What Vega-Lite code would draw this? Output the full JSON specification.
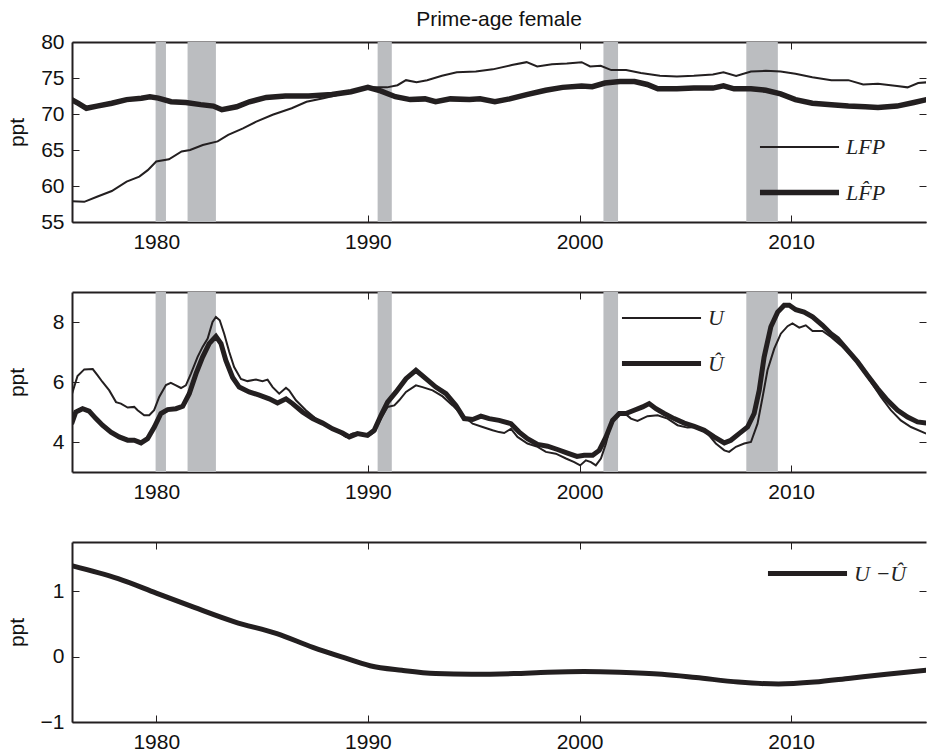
{
  "$schema": "https://vega.github.io/schema/vega-lite/v6.json",
  "background": "white",
  "padding": {"left": 6, "top": 9, "right": 0, "bottom": 0},
  "config": {
    "view": {"stroke": null},
    "font": "Liberation Sans",
    "axis": {
      "grid": false,
      "domainColor": "#231f20",
      "domainWidth": 2,
      "tickColor": "#231f20",
      "tickWidth": 1,
      "tickSize": -7,
      "labelFont": "Liberation Sans",
      "labelFontSize": 21,
      "labelColor": "#111111",
      "labelPadding": 8,
      "titleFont": "Liberation Sans",
      "titleFontSize": 21,
      "titleFontWeight": "normal",
      "titleColor": "#111111"
    },
    "legend": {
      "orient": "none",
      "title": null,
      "symbolType": "M-1.25,0H1.25",
      "symbolSize": 4000,
      "symbolStrokeColor": "#231f20",
      "labelFont": "Liberation Serif",
      "labelFontStyle": "italic",
      "labelFontSize": 22,
      "labelColor": "#222222",
      "labelOffset": 12,
      "padding": 0,
      "rowPadding": 0
    }
  },
  "datasets": {
    "rec": [
      {"start": 1979.97, "end": 1980.46},
      {"start": 1981.48, "end": 1982.82},
      {"start": 1990.46, "end": 1991.13},
      {"start": 2001.13, "end": 2001.82},
      {"start": 2007.88, "end": 2009.37}
    ],
    "lfp": [
      {"t":1976.0,"v":57.9,"s":"LFP"},{"t":1976.6,"v":57.8,"s":"LFP"},{"t":1977.2,"v":58.5,"s":"LFP"},{"t":1977.9,"v":59.3,"s":"LFP"},
      {"t":1978.6,"v":60.6,"s":"LFP"},{"t":1979.2,"v":61.3,"s":"LFP"},{"t":1979.6,"v":62.2,"s":"LFP"},{"t":1980.0,"v":63.4,"s":"LFP"},
      {"t":1980.6,"v":63.7,"s":"LFP"},{"t":1981.2,"v":64.8,"s":"LFP"},{"t":1981.6,"v":65.0,"s":"LFP"},{"t":1982.2,"v":65.7,"s":"LFP"},
      {"t":1982.9,"v":66.2,"s":"LFP"},{"t":1983.4,"v":67.1,"s":"LFP"},{"t":1984.1,"v":68.0,"s":"LFP"},{"t":1984.7,"v":68.9,"s":"LFP"},
      {"t":1985.5,"v":69.9,"s":"LFP"},{"t":1986.4,"v":70.8,"s":"LFP"},{"t":1987.1,"v":71.7,"s":"LFP"},{"t":1987.9,"v":72.2,"s":"LFP"},
      {"t":1988.8,"v":72.8,"s":"LFP"},{"t":1989.5,"v":73.4,"s":"LFP"},{"t":1990.0,"v":73.7,"s":"LFP"},{"t":1990.9,"v":73.7,"s":"LFP"},
      {"t":1991.4,"v":74.0,"s":"LFP"},{"t":1991.8,"v":74.7,"s":"LFP"},{"t":1992.3,"v":74.4,"s":"LFP"},{"t":1992.8,"v":74.7,"s":"LFP"},
      {"t":1993.5,"v":75.3,"s":"LFP"},{"t":1994.2,"v":75.8,"s":"LFP"},{"t":1995.1,"v":75.9,"s":"LFP"},{"t":1995.9,"v":76.2,"s":"LFP"},
      {"t":1996.8,"v":76.8,"s":"LFP"},{"t":1997.5,"v":77.2,"s":"LFP"},{"t":1998.0,"v":76.6,"s":"LFP"},{"t":1998.7,"v":76.9,"s":"LFP"},
      {"t":1999.4,"v":77.0,"s":"LFP"},{"t":2000.1,"v":77.2,"s":"LFP"},{"t":2000.5,"v":76.6,"s":"LFP"},{"t":2001.0,"v":76.7,"s":"LFP"},
      {"t":2001.5,"v":76.1,"s":"LFP"},{"t":2002.2,"v":76.1,"s":"LFP"},{"t":2002.9,"v":75.7,"s":"LFP"},{"t":2003.8,"v":75.3,"s":"LFP"},
      {"t":2004.6,"v":75.2,"s":"LFP"},{"t":2005.4,"v":75.3,"s":"LFP"},{"t":2006.3,"v":75.5,"s":"LFP"},{"t":2006.8,"v":75.8,"s":"LFP"},
      {"t":2007.4,"v":75.3,"s":"LFP"},{"t":2008.1,"v":75.9,"s":"LFP"},{"t":2008.8,"v":76.0,"s":"LFP"},{"t":2009.5,"v":75.9,"s":"LFP"},
      {"t":2010.2,"v":75.6,"s":"LFP"},{"t":2011.0,"v":75.1,"s":"LFP"},{"t":2011.9,"v":74.7,"s":"LFP"},{"t":2012.7,"v":74.7,"s":"LFP"},
      {"t":2013.4,"v":74.1,"s":"LFP"},{"t":2014.1,"v":74.2,"s":"LFP"},{"t":2015.0,"v":73.9,"s":"LFP"},{"t":2015.5,"v":73.7,"s":"LFP"},
      {"t":2016.0,"v":74.3,"s":"LFP"},{"t":2016.4,"v":74.4,"s":"LFP"},
      {"t":1976.0,"v":72.0,"s":"LF̂P"},{"t":1976.3,"v":71.5,"s":"LF̂P"},{"t":1976.7,"v":70.8,"s":"LF̂P"},{"t":1977.2,"v":71.1,"s":"LF̂P"},
      {"t":1977.9,"v":71.5,"s":"LF̂P"},{"t":1978.6,"v":72.0,"s":"LF̂P"},{"t":1979.3,"v":72.2,"s":"LF̂P"},{"t":1979.7,"v":72.4,"s":"LF̂P"},
      {"t":1980.1,"v":72.2,"s":"LF̂P"},{"t":1980.7,"v":71.7,"s":"LF̂P"},{"t":1981.4,"v":71.6,"s":"LF̂P"},{"t":1982.1,"v":71.3,"s":"LF̂P"},
      {"t":1982.7,"v":71.1,"s":"LF̂P"},{"t":1983.1,"v":70.6,"s":"LF̂P"},{"t":1983.8,"v":71.0,"s":"LF̂P"},{"t":1984.4,"v":71.7,"s":"LF̂P"},
      {"t":1985.2,"v":72.3,"s":"LF̂P"},{"t":1986.1,"v":72.5,"s":"LF̂P"},{"t":1987.2,"v":72.5,"s":"LF̂P"},{"t":1988.3,"v":72.7,"s":"LF̂P"},
      {"t":1989.2,"v":73.1,"s":"LF̂P"},{"t":1990.0,"v":73.7,"s":"LF̂P"},{"t":1990.6,"v":73.2,"s":"LF̂P"},{"t":1991.3,"v":72.4,"s":"LF̂P"},
      {"t":1992.0,"v":72.0,"s":"LF̂P"},{"t":1992.7,"v":72.1,"s":"LF̂P"},{"t":1993.2,"v":71.7,"s":"LF̂P"},{"t":1993.9,"v":72.1,"s":"LF̂P"},
      {"t":1994.8,"v":72.0,"s":"LF̂P"},{"t":1995.3,"v":72.1,"s":"LF̂P"},{"t":1996.0,"v":71.7,"s":"LF̂P"},{"t":1996.7,"v":72.1,"s":"LF̂P"},
      {"t":1997.5,"v":72.7,"s":"LF̂P"},{"t":1998.4,"v":73.3,"s":"LF̂P"},{"t":1999.2,"v":73.7,"s":"LF̂P"},{"t":2000.1,"v":73.9,"s":"LF̂P"},
      {"t":2000.6,"v":73.8,"s":"LF̂P"},{"t":2001.2,"v":74.3,"s":"LF̂P"},{"t":2001.9,"v":74.5,"s":"LF̂P"},{"t":2002.6,"v":74.5,"s":"LF̂P"},
      {"t":2003.2,"v":74.1,"s":"LF̂P"},{"t":2003.7,"v":73.5,"s":"LF̂P"},{"t":2004.6,"v":73.5,"s":"LF̂P"},{"t":2005.4,"v":73.6,"s":"LF̂P"},
      {"t":2006.3,"v":73.6,"s":"LF̂P"},{"t":2006.8,"v":73.9,"s":"LF̂P"},{"t":2007.3,"v":73.5,"s":"LF̂P"},{"t":2008.1,"v":73.5,"s":"LF̂P"},
      {"t":2008.8,"v":73.3,"s":"LF̂P"},{"t":2009.5,"v":72.8,"s":"LF̂P"},{"t":2010.2,"v":72.0,"s":"LF̂P"},{"t":2011.0,"v":71.5,"s":"LF̂P"},
      {"t":2011.9,"v":71.3,"s":"LF̂P"},{"t":2012.7,"v":71.1,"s":"LF̂P"},{"t":2013.5,"v":71.0,"s":"LF̂P"},{"t":2014.1,"v":70.9,"s":"LF̂P"},
      {"t":2015.0,"v":71.1,"s":"LF̂P"},{"t":2015.8,"v":71.6,"s":"LF̂P"},{"t":2016.4,"v":72.0,"s":"LF̂P"}
    ],
    "u": [
      {"t":1976.02,"v":5.6,"s":"U"},{"t":1976.28,"v":6.2,"s":"U"},{"t":1976.6,"v":6.42,"s":"U"},{"t":1977.0,"v":6.43,"s":"U"},
      {"t":1977.23,"v":6.22,"s":"U"},{"t":1977.46,"v":6.0,"s":"U"},{"t":1977.78,"v":5.72,"s":"U"},{"t":1978.1,"v":5.33,"s":"U"},
      {"t":1978.33,"v":5.28,"s":"U"},{"t":1978.65,"v":5.15,"s":"U"},{"t":1978.96,"v":5.17,"s":"U"},{"t":1979.12,"v":5.06,"s":"U"},
      {"t":1979.43,"v":4.89,"s":"U"},{"t":1979.67,"v":4.89,"s":"U"},{"t":1979.9,"v":5.06,"s":"U"},{"t":1980.14,"v":5.5,"s":"U"},
      {"t":1980.46,"v":5.9,"s":"U"},{"t":1980.69,"v":5.97,"s":"U"},{"t":1980.93,"v":5.89,"s":"U"},{"t":1981.17,"v":5.8,"s":"U"},
      {"t":1981.4,"v":5.89,"s":"U"},{"t":1981.64,"v":6.28,"s":"U"},{"t":1981.95,"v":6.83,"s":"U"},{"t":1982.19,"v":7.17,"s":"U"},
      {"t":1982.43,"v":7.45,"s":"U"},{"t":1982.66,"v":8.0,"s":"U"},{"t":1982.82,"v":8.17,"s":"U"},{"t":1983.0,"v":8.06,"s":"U"},
      {"t":1983.21,"v":7.61,"s":"U"},{"t":1983.45,"v":7.0,"s":"U"},{"t":1983.68,"v":6.5,"s":"U"},{"t":1984.0,"v":6.1,"s":"U"},
      {"t":1984.31,"v":6.03,"s":"U"},{"t":1984.71,"v":6.08,"s":"U"},{"t":1985.02,"v":6.03,"s":"U"},{"t":1985.26,"v":6.08,"s":"U"},
      {"t":1985.5,"v":5.83,"s":"U"},{"t":1985.81,"v":5.61,"s":"U"},{"t":1986.13,"v":5.81,"s":"U"},{"t":1986.28,"v":5.72,"s":"U"},
      {"t":1986.6,"v":5.39,"s":"U"},{"t":1987.07,"v":5.06,"s":"U"},{"t":1987.54,"v":4.78,"s":"U"},{"t":1988.02,"v":4.56,"s":"U"},
      {"t":1988.49,"v":4.39,"s":"U"},{"t":1988.96,"v":4.17,"s":"U"},{"t":1989.28,"v":4.28,"s":"U"},{"t":1989.6,"v":4.3,"s":"U"},
      {"t":1990.07,"v":4.22,"s":"U"},{"t":1990.3,"v":4.33,"s":"U"},{"t":1990.62,"v":4.78,"s":"U"},{"t":1990.93,"v":5.17,"s":"U"},
      {"t":1991.25,"v":5.22,"s":"U"},{"t":1991.48,"v":5.39,"s":"U"},{"t":1991.8,"v":5.67,"s":"U"},{"t":1992.27,"v":5.89,"s":"U"},
      {"t":1992.58,"v":5.83,"s":"U"},{"t":1993.06,"v":5.72,"s":"U"},{"t":1993.53,"v":5.52,"s":"U"},{"t":1994.0,"v":5.22,"s":"U"},
      {"t":1994.47,"v":4.89,"s":"U"},{"t":1994.95,"v":4.61,"s":"U"},{"t":1995.42,"v":4.5,"s":"U"},{"t":1995.89,"v":4.39,"s":"U"},
      {"t":1996.2,"v":4.33,"s":"U"},{"t":1996.44,"v":4.3,"s":"U"},{"t":1996.76,"v":4.44,"s":"U"},{"t":1997.07,"v":4.17,"s":"U"},
      {"t":1997.54,"v":3.95,"s":"U"},{"t":1998.02,"v":3.84,"s":"U"},{"t":1998.41,"v":3.67,"s":"U"},{"t":1998.88,"v":3.61,"s":"U"},
      {"t":1999.36,"v":3.45,"s":"U"},{"t":1999.75,"v":3.33,"s":"U"},{"t":2000.03,"v":3.22,"s":"U"},{"t":2000.3,"v":3.39,"s":"U"},
      {"t":2000.54,"v":3.33,"s":"U"},{"t":2000.77,"v":3.22,"s":"U"},{"t":2001.01,"v":3.45,"s":"U"},{"t":2001.25,"v":3.95,"s":"U"},
      {"t":2001.48,"v":4.61,"s":"U"},{"t":2001.8,"v":4.95,"s":"U"},{"t":2002.11,"v":4.97,"s":"U"},{"t":2002.43,"v":4.78,"s":"U"},
      {"t":2002.74,"v":4.7,"s":"U"},{"t":2003.21,"v":4.86,"s":"U"},{"t":2003.69,"v":4.89,"s":"U"},{"t":2004.16,"v":4.78,"s":"U"},
      {"t":2004.63,"v":4.56,"s":"U"},{"t":2005.1,"v":4.48,"s":"U"},{"t":2005.58,"v":4.5,"s":"U"},{"t":2006.05,"v":4.28,"s":"U"},
      {"t":2006.44,"v":3.95,"s":"U"},{"t":2006.84,"v":3.72,"s":"U"},{"t":2007.07,"v":3.67,"s":"U"},{"t":2007.39,"v":3.84,"s":"U"},
      {"t":2007.78,"v":3.95,"s":"U"},{"t":2008.1,"v":4.0,"s":"U"},{"t":2008.41,"v":4.61,"s":"U"},{"t":2008.65,"v":5.5,"s":"U"},
      {"t":2008.88,"v":6.39,"s":"U"},{"t":2009.2,"v":7.11,"s":"U"},{"t":2009.51,"v":7.61,"s":"U"},{"t":2009.83,"v":7.86,"s":"U"},
      {"t":2010.06,"v":7.95,"s":"U"},{"t":2010.38,"v":7.81,"s":"U"},{"t":2010.69,"v":7.89,"s":"U"},{"t":2011.01,"v":7.7,"s":"U"},
      {"t":2011.48,"v":7.7,"s":"U"},{"t":2011.88,"v":7.5,"s":"U"},{"t":2012.35,"v":7.22,"s":"U"},{"t":2012.82,"v":6.89,"s":"U"},
      {"t":2013.3,"v":6.5,"s":"U"},{"t":2013.77,"v":6.0,"s":"U"},{"t":2014.24,"v":5.5,"s":"U"},{"t":2014.71,"v":5.06,"s":"U"},
      {"t":2015.18,"v":4.72,"s":"U"},{"t":2015.66,"v":4.5,"s":"U"},{"t":2016.38,"v":4.28,"s":"U"},
      {"t":1976.0,"v":4.6,"s":"Û"},{"t":1976.2,"v":5.0,"s":"Û"},{"t":1976.52,"v":5.11,"s":"Û"},{"t":1976.83,"v":5.03,"s":"Û"},
      {"t":1977.15,"v":4.78,"s":"Û"},{"t":1977.46,"v":4.56,"s":"Û"},{"t":1977.86,"v":4.33,"s":"Û"},{"t":1978.25,"v":4.17,"s":"Û"},
      {"t":1978.65,"v":4.06,"s":"Û"},{"t":1978.96,"v":4.06,"s":"Û"},{"t":1979.28,"v":3.97,"s":"Û"},{"t":1979.59,"v":4.11,"s":"Û"},
      {"t":1979.91,"v":4.5,"s":"Û"},{"t":1980.22,"v":4.95,"s":"Û"},{"t":1980.54,"v":5.08,"s":"Û"},{"t":1980.93,"v":5.11,"s":"Û"},
      {"t":1981.25,"v":5.19,"s":"Û"},{"t":1981.56,"v":5.61,"s":"Û"},{"t":1981.88,"v":6.28,"s":"Û"},{"t":1982.19,"v":6.83,"s":"Û"},
      {"t":1982.5,"v":7.28,"s":"Û"},{"t":1982.82,"v":7.52,"s":"Û"},{"t":1983.06,"v":7.28,"s":"Û"},{"t":1983.29,"v":6.72,"s":"Û"},
      {"t":1983.61,"v":6.15,"s":"Û"},{"t":1983.92,"v":5.83,"s":"Û"},{"t":1984.39,"v":5.67,"s":"Û"},{"t":1984.87,"v":5.56,"s":"Û"},
      {"t":1985.34,"v":5.44,"s":"Û"},{"t":1985.73,"v":5.3,"s":"Û"},{"t":1986.13,"v":5.44,"s":"Û"},{"t":1986.44,"v":5.28,"s":"Û"},
      {"t":1986.91,"v":5.0,"s":"Û"},{"t":1987.39,"v":4.78,"s":"Û"},{"t":1987.86,"v":4.63,"s":"Û"},{"t":1988.33,"v":4.44,"s":"Û"},
      {"t":1988.8,"v":4.3,"s":"Û"},{"t":1989.12,"v":4.17,"s":"Û"},{"t":1989.51,"v":4.28,"s":"Û"},{"t":1989.98,"v":4.22,"s":"Û"},
      {"t":1990.3,"v":4.39,"s":"Û"},{"t":1990.62,"v":4.89,"s":"Û"},{"t":1990.93,"v":5.33,"s":"Û"},{"t":1991.33,"v":5.67,"s":"Û"},
      {"t":1991.8,"v":6.11,"s":"Û"},{"t":1992.27,"v":6.39,"s":"Û"},{"t":1992.74,"v":6.11,"s":"Û"},{"t":1993.21,"v":5.83,"s":"Û"},
      {"t":1993.69,"v":5.61,"s":"Û"},{"t":1994.16,"v":5.22,"s":"Û"},{"t":1994.55,"v":4.78,"s":"Û"},{"t":1994.95,"v":4.75,"s":"Û"},
      {"t":1995.34,"v":4.86,"s":"Û"},{"t":1995.73,"v":4.78,"s":"Û"},{"t":1996.2,"v":4.72,"s":"Û"},{"t":1996.76,"v":4.61,"s":"Û"},
      {"t":1997.15,"v":4.33,"s":"Û"},{"t":1997.54,"v":4.11,"s":"Û"},{"t":1998.02,"v":3.92,"s":"Û"},{"t":1998.49,"v":3.86,"s":"Û"},
      {"t":1998.96,"v":3.75,"s":"Û"},{"t":1999.43,"v":3.63,"s":"Û"},{"t":1999.88,"v":3.52,"s":"Û"},{"t":2000.22,"v":3.56,"s":"Û"},
      {"t":2000.62,"v":3.56,"s":"Û"},{"t":2000.93,"v":3.72,"s":"Û"},{"t":2001.25,"v":4.17,"s":"Û"},{"t":2001.56,"v":4.72,"s":"Û"},
      {"t":2001.88,"v":4.95,"s":"Û"},{"t":2002.19,"v":4.95,"s":"Û"},{"t":2002.58,"v":5.06,"s":"Û"},{"t":2002.98,"v":5.17,"s":"Û"},
      {"t":2003.29,"v":5.28,"s":"Û"},{"t":2003.61,"v":5.11,"s":"Û"},{"t":2004.0,"v":4.95,"s":"Û"},{"t":2004.47,"v":4.78,"s":"Û"},
      {"t":2004.95,"v":4.63,"s":"Û"},{"t":2005.42,"v":4.52,"s":"Û"},{"t":2005.89,"v":4.39,"s":"Û"},{"t":2006.36,"v":4.17,"s":"Û"},
      {"t":2006.84,"v":3.97,"s":"Û"},{"t":2007.15,"v":4.06,"s":"Û"},{"t":2007.54,"v":4.28,"s":"Û"},{"t":2007.94,"v":4.5,"s":"Û"},
      {"t":2008.25,"v":4.95,"s":"Û"},{"t":2008.49,"v":5.72,"s":"Û"},{"t":2008.72,"v":6.83,"s":"Û"},{"t":2009.04,"v":7.84,"s":"Û"},
      {"t":2009.36,"v":8.33,"s":"Û"},{"t":2009.67,"v":8.56,"s":"Û"},{"t":2009.91,"v":8.56,"s":"Û"},{"t":2010.22,"v":8.41,"s":"Û"},
      {"t":2010.61,"v":8.33,"s":"Û"},{"t":2011.01,"v":8.17,"s":"Û"},{"t":2011.48,"v":7.89,"s":"Û"},{"t":2011.88,"v":7.61,"s":"Û"},
      {"t":2012.19,"v":7.45,"s":"Û"},{"t":2012.66,"v":7.06,"s":"Û"},{"t":2013.14,"v":6.67,"s":"Û"},{"t":2013.61,"v":6.22,"s":"Û"},
      {"t":2014.08,"v":5.78,"s":"Û"},{"t":2014.55,"v":5.39,"s":"Û"},{"t":2015.03,"v":5.06,"s":"Û"},{"t":2015.5,"v":4.83,"s":"Û"},
      {"t":2015.97,"v":4.67,"s":"Û"},{"t":2016.38,"v":4.63,"s":"Û"}
    ],
    "gap": [
      {"t":1976.0,"v":1.39,"s":"U −Û"},{"t":1978.2,"v":1.19,"s":"U −Û"},{"t":1980.0,"v":0.97,"s":"U −Û"},{"t":1981.8,"v":0.75,"s":"U −Û"},
      {"t":1983.7,"v":0.53,"s":"U −Û"},{"t":1985.7,"v":0.35,"s":"U −Û"},{"t":1987.4,"v":0.14,"s":"U −Û"},{"t":1988.8,"v":-0.01,"s":"U −Û"},
      {"t":1990.1,"v":-0.14,"s":"U −Û"},{"t":1991.6,"v":-0.21,"s":"U −Û"},{"t":1993.2,"v":-0.26,"s":"U −Û"},{"t":1994.9,"v":-0.27,"s":"U −Û"},
      {"t":1996.9,"v":-0.26,"s":"U −Û"},{"t":1998.5,"v":-0.24,"s":"U −Û"},{"t":2000.2,"v":-0.23,"s":"U −Û"},{"t":2001.9,"v":-0.24,"s":"U −Û"},
      {"t":2003.9,"v":-0.27,"s":"U −Û"},{"t":2005.5,"v":-0.32,"s":"U −Û"},{"t":2007.5,"v":-0.39,"s":"U −Û"},{"t":2009.4,"v":-0.42,"s":"U −Û"},
      {"t":2011.1,"v":-0.39,"s":"U −Û"},{"t":2012.8,"v":-0.33,"s":"U −Û"},{"t":2014.5,"v":-0.27,"s":"U −Û"},{"t":2016.4,"v":-0.21,"s":"U −Û"}
    ]
  },
  "spacing": 70,
  "bounds": "flush",
  "resolve": {
    "scale": {"x": "independent", "y": "independent", "strokeWidth": "independent"},
    "legend": {"strokeWidth": "independent"}
  },
  "vconcat": [
    {
      "width": 854,
      "height": 180,
      "title": {"text": "Prime-age female", "frame": "group", "anchor": "middle", "fontSize": 21, "fontWeight": "normal", "font": "Liberation Sans", "color": "#111111", "offset": 1},
      "layer": [
        {
          "data": {"name": "rec"},
          "mark": {"type": "rect", "color": "#bbbdc0"},
          "encoding": {
            "x": {"field": "start", "type": "quantitative", "scale": {"domain": [1976.02, 2016.37], "nice": false, "zero": false},
                  "axis": {"orient": "bottom", "values": [1980, 1990, 2000, 2010], "format": "d", "title": null, "labelPadding": 16}},
            "x2": {"field": "end"}
          }
        },
        {
          "data": {"name": "lfp"},
          "mark": {"type": "line", "color": "#231f20", "clip": true},
          "encoding": {
            "x": {"field": "t", "type": "quantitative", "axis": null},
            "y": {"field": "v", "type": "quantitative", "scale": {"domain": [55, 80], "nice": false, "zero": false},
                  "axis": {"orient": "left", "values": [55, 60, 65, 70, 75, 80], "title": "ppt", "titleX": -45, "titleY": 90, "labelPadding": 15}},
            "strokeWidth": {"field": "s", "type": "ordinal", "scale": {"domain": ["LFP", "LF̂P"], "range": [2, 5.5]},
                  "legend": {"legendX": 693, "legendY": 72}}
          }
        },
        {
          "data": {"name": "lfp"},
          "mark": {"type": "line", "opacity": 0},
          "encoding": {
            "x": {"field": "t", "type": "quantitative", "axis": {"orient": "top", "values": [1980, 1990, 2000, 2010], "labels": false, "title": null}},
            "y": {"field": "v", "type": "quantitative", "axis": {"orient": "right", "values": [55, 60, 65, 70, 75, 80], "labels": false, "domain": false, "title": null}}
          }
        }
      ],
      "resolve": {"axis": {"x": "independent", "y": "independent"}}
    },
    {
      "width": 854,
      "height": 180,
      "layer": [
        {
          "data": {"name": "rec"},
          "mark": {"type": "rect", "color": "#bbbdc0"},
          "encoding": {
            "x": {"field": "start", "type": "quantitative", "scale": {"domain": [1976.02, 2016.37], "nice": false, "zero": false},
                  "axis": {"orient": "bottom", "values": [1980, 1990, 2000, 2010], "format": "d", "title": null, "labelPadding": 16}},
            "x2": {"field": "end"}
          }
        },
        {
          "data": {"name": "u"},
          "mark": {"type": "line", "color": "#231f20", "clip": true},
          "encoding": {
            "x": {"field": "t", "type": "quantitative", "axis": null},
            "y": {"field": "v", "type": "quantitative", "scale": {"domain": [3, 9], "nice": false, "zero": false},
                  "axis": {"orient": "left", "values": [4, 6, 8], "title": "ppt", "titleX": -45, "titleY": 90, "labelPadding": 15}},
            "strokeWidth": {"field": "s", "type": "ordinal", "scale": {"domain": ["U", "Û"], "range": [2, 5]},
                  "legend": {"legendX": 555, "legendY": -7}}
          }
        },
        {
          "data": {"name": "u"},
          "mark": {"type": "line", "opacity": 0},
          "encoding": {
            "x": {"field": "t", "type": "quantitative", "axis": {"orient": "top", "values": [1980, 1990, 2000, 2010], "labels": false, "title": null}},
            "y": {"field": "v", "type": "quantitative", "axis": {"orient": "right", "values": [4, 6, 8], "labels": false, "domain": false, "title": null}}
          }
        }
      ],
      "resolve": {"axis": {"x": "independent", "y": "independent"}}
    },
    {
      "width": 854,
      "height": 180,
      "layer": [
        {
          "mark": {"type": "rule", "color": "#231f20", "strokeWidth": 1.3, "strokeDash": [14, 17]},
          "encoding": {"y": {"datum": 0, "type": "quantitative", "scale": {"domain": [-1, 1.75], "nice": false, "zero": false},
                  "axis": {"orient": "left", "values": [-1, 0, 1], "title": "ppt", "titleX": -45, "titleY": 90, "labelPadding": 15}}}
        },
        {
          "data": {"name": "gap"},
          "mark": {"type": "line", "color": "#231f20", "clip": true, "interpolate": "monotone"},
          "encoding": {
            "x": {"field": "t", "type": "quantitative", "scale": {"domain": [1976.02, 2016.37], "nice": false, "zero": false},
                  "axis": {"orient": "bottom", "values": [1980, 1990, 2000, 2010], "format": "d", "title": null, "labelPadding": 16}},
            "y": {"field": "v", "type": "quantitative", "axis": null},
            "strokeWidth": {"field": "s", "type": "ordinal", "scale": {"domain": ["U −Û"], "range": [5, 5]},
                  "legend": {"legendX": 701, "legendY": -3}}
          }
        },
        {
          "data": {"name": "gap"},
          "mark": {"type": "line", "opacity": 0},
          "encoding": {
            "x": {"field": "t", "type": "quantitative", "axis": {"orient": "top", "values": [1980, 1990, 2000, 2010], "labels": false, "title": null}},
            "y": {"field": "v", "type": "quantitative", "axis": {"orient": "right", "values": [-1, 0, 1], "labels": false, "domain": false, "title": null}}
          }
        }
      ],
      "resolve": {"axis": {"x": "independent", "y": "independent"}}
    }
  ]
}
